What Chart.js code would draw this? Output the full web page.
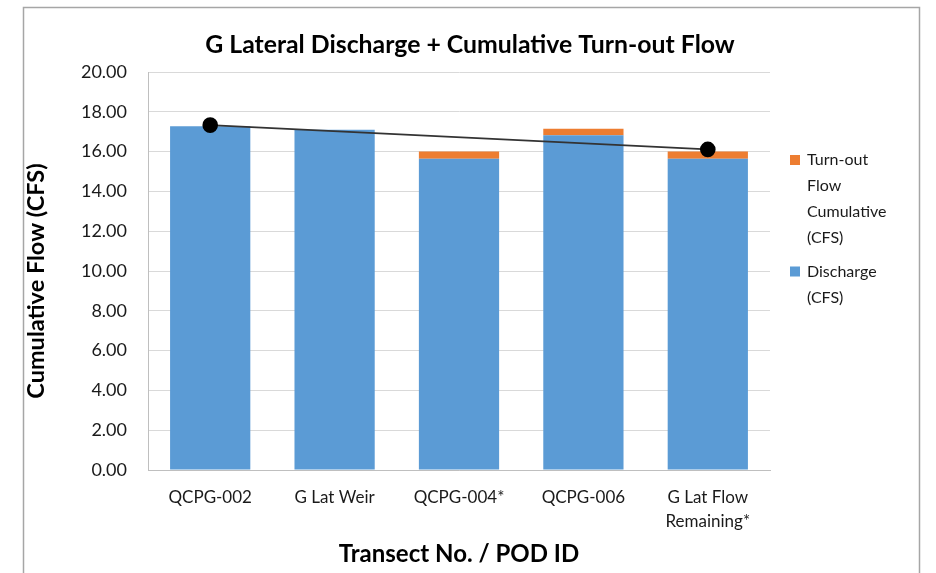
<!DOCTYPE html>
<html>
<head>
<meta charset="utf-8">
<script src="https://cdn.jsdelivr.net/npm/chart.js@4"></script>
<style>
  html, body { margin: 0; padding: 0; background: #fff; }
  #wrap { position: relative; width: 936px; height: 573px; }
</style>
</head>
<body>
<div id="wrap"><canvas id="c" width="936" height="573"></canvas></div>
<script>
// ---- data ----
const categories = ["QCPG-002", "G Lat Weir", "QCPG-004*", "QCPG-006", ["G Lat Flow", "Remaining*"]];
const discharge = [17.27, 17.10, 15.64, 16.82, 15.64];
const turnoutCumulative = [0, 0, 0.36, 0.33, 0.36];
const trendPoints = [17.33, null, null, null, 16.11];
const yTicks = [0, 2, 4, 6, 8, 10, 12, 14, 16, 18, 20];
const chartTitle = "G Lateral Discharge + Cumulative Turn-out Flow";
const yTitle = "Cumulative Flow (CFS)";
const xTitle = "Transect No. / POD ID";
const seriesNames = ["Discharge (CFS)", "Turn-out Flow Cumulative (CFS)"];

const FONT = "Lato, 'Open Sans', sans-serif";

const frameAndLegend = {
  id: 'frameAndLegend',
  beforeDraw(chart) {
    const ctx = chart.ctx;
    ctx.save();
    ctx.fillStyle = '#fff';
    ctx.fillRect(0, 0, chart.width, chart.height);
    ctx.strokeStyle = '#a6a6a6';
    ctx.lineWidth = 1.5;
    ctx.strokeRect(23.5, 7.5, 896, 620);
    ctx.restore();
  },
  afterDraw(chart) {
    const ctx = chart.ctx;
    ctx.save();
    // chart title
    ctx.fillStyle = '#000';
    ctx.font = "bold 24.8px " + FONT;
    ctx.textAlign = 'center';
    ctx.textBaseline = 'middle';
    ctx.fillText(chartTitle, 470, 45);
    // y axis title
    ctx.save();
    ctx.translate(36, 281);
    ctx.rotate(-Math.PI / 2);
    ctx.font = "bold 23.5px " + FONT;
    ctx.fillText(yTitle, 0, 0);
    ctx.restore();
    // legend (reverse order, wrapped)
    const items = [
      { ds: chart.data.datasets[1], lines: ["Turn-out", "Flow", "Cumulative", "(CFS)"] },
      { ds: chart.data.datasets[0], lines: ["Discharge", "(CFS)"] }
    ];
    ctx.font = "16px " + FONT;
    ctx.textAlign = 'left';
    let y = 160;
    const lh = 26;
    items.forEach((it) => {
      ctx.fillStyle = it.ds.backgroundColor;
      ctx.fillRect(790, y - 5, 10, 10);
      ctx.fillStyle = '#1a1a1a';
      it.lines.forEach((ln, k) => ctx.fillText(ln, 807, y + k * lh));
      y += it.lines.length * lh + 7.5;
    });
    ctx.restore();
  }
};

new Chart(document.getElementById('c'), {
  type: 'bar',
  data: {
    labels: categories,
    datasets: [
      { label: seriesNames[0], data: discharge, backgroundColor: '#5b9bd5', stack: 's', order: 2,
        categoryPercentage: 1, barPercentage: 0.645 },
      { label: seriesNames[1], data: turnoutCumulative, backgroundColor: '#ed7d31', stack: 's', order: 2,
        categoryPercentage: 1, barPercentage: 0.645 },
      { type: 'line', label: 'trend', data: trendPoints, stack: 'line', spanGaps: true,
        borderColor: '#333333', borderWidth: 1.6, pointRadius: 7, pointHoverRadius: 7,
        pointBackgroundColor: '#000', pointBorderColor: '#000', order: 1 }
    ]
  },
  options: {
    responsive: false,
    animation: false,
    devicePixelRatio: 1,
    layout: { padding: { left: 0, top: 72, right: 166, bottom: 0 } },
    plugins: { legend: { display: false }, title: { display: false }, tooltip: { enabled: false } },
    scales: {
      x: {
        stacked: true,
        offset: true,
        grid: { display: false, drawTicks: false },
        border: { display: true, color: '#bfbfbf', width: 1 },
        ticks: { color: '#1a1a1a', font: { family: FONT, size: 17, lineHeight: 1.45 }, padding: 15, maxRotation: 0, autoSkip: false },
        title: { display: true, text: xTitle, color: '#000', font: { family: FONT, size: 24, weight: 'bold', lineHeight: 1.2 }, padding: { top: 0, bottom: 4 } },
        afterFit(s) { s.height = 103; }
      },
      y: {
        stacked: true,
        min: 0, max: 20,
        afterBuildTicks(s) { s.ticks = yTicks.map(v => ({ value: v })); },
        grid: { color: '#d9d9d9', lineWidth: 1, drawTicks: false },
        border: { display: true, color: '#bfbfbf', width: 1 },
        ticks: { color: '#1a1a1a', font: { family: FONT, size: 18 }, padding: 21, callback: v => Number(v).toFixed(2) },
        title: { display: false },
        afterFit(s) { s.width = 148; }
      }
    }
  },
  plugins: [frameAndLegend]
});
</script>
</body>
</html>
